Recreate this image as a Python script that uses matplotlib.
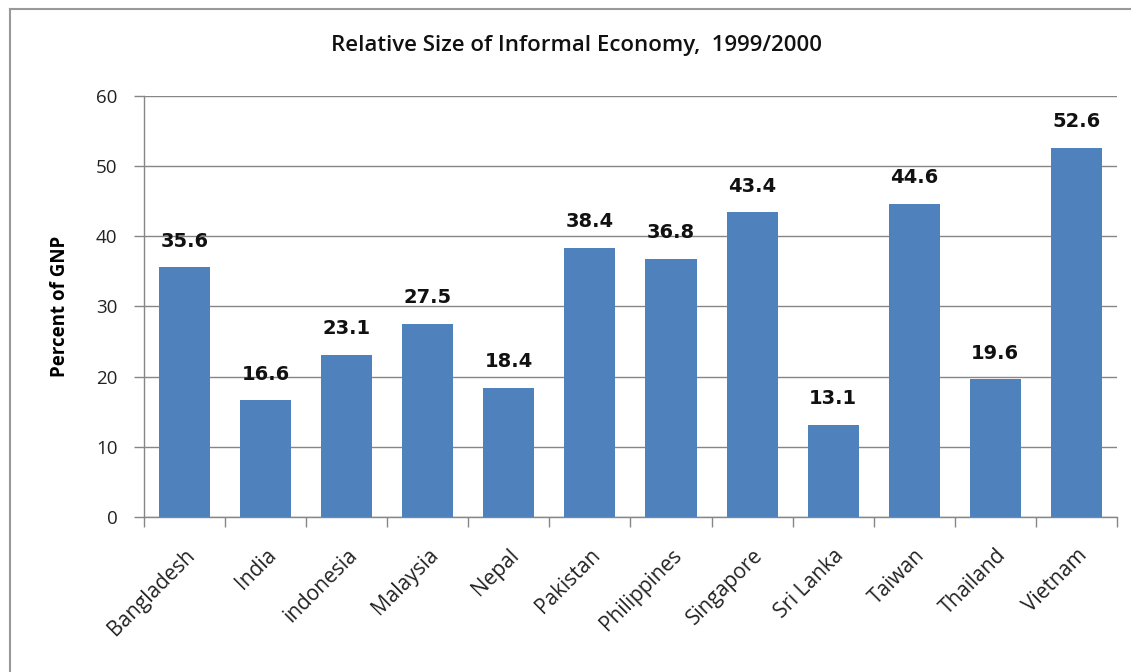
import matplotlib
matplotlib.use("Agg")
import matplotlib.pyplot as plt
from matplotlib.lines import Line2D
import numpy as np

countries = ["Bangladesh", "India", "indonesia", "Malaysia", "Nepal", "Pakistan",
             "Philippines", "Singapore", "Sri Lanka", "Taiwan", "Thailand", "Vietnam"]
values = [35.6, 16.6, 23.1, 27.5, 18.4, 38.4, 36.8, 43.4, 13.1, 44.6, 19.6, 52.6]
yticks = [0, 10, 20, 30, 40, 50, 60]
title = "Relative Size of Informal Economy,  1999/2000"
ylabel = "Percent of GNP"

plt.rcParams['font.family'] = ['Open Sans', 'DejaVu Sans']

fig = plt.figure(figsize=(11.31, 6.72), dpi=100)
ax = fig.add_axes([0.1273, 0.2307, 0.8603, 0.6265])

axis_col = "#868686"
x = np.arange(len(countries))
ax.bar(x, values, width=0.63, color="#4F81BD", zorder=3)
for xi, v in zip(x, values):
    ax.annotate(f"{v}", (xi, v), xytext=(0, 12), textcoords="offset points",
                ha="center", va="bottom", fontsize=14, fontweight="bold",
                family=["DejaVu Sans"], color="#111111")

ax.set_xlim(-0.5, len(countries) - 0.5)
ax.set_ylim(0, 60)
ax.set_yticks(yticks)
ax.set_yticklabels([str(t) for t in yticks], fontsize=13.5, color="#222222")
ax.yaxis.grid(True, color=axis_col, linewidth=1.0, zorder=0)
ax.set_axisbelow(True)

ax.set_xticks(x)
ax.set_xticklabels(countries, rotation=45, ha="right", rotation_mode="anchor",
                   fontsize=15, color="#222222")
ax.tick_params(axis="x", length=0, pad=20)
ax.set_xticks(np.arange(-0.5, len(countries)), minor=True)
ax.tick_params(axis="x", which="minor", length=7, color=axis_col, width=1)
ax.tick_params(axis="y", length=7, color=axis_col, width=1, pad=12)

for s in ["top", "right"]:
    ax.spines[s].set_visible(False)
for s in ["left", "bottom"]:
    ax.spines[s].set_color(axis_col)
    ax.spines[s].set_linewidth(1.0)

ax.set_ylabel(ylabel, fontsize=13.5, fontweight="bold", labelpad=19)
fig.text(0.51, 0.933, title, ha="center", va="center", fontsize=16,
         fontweight="semibold", color="#111111")

# outer chart border (top and left)
fig.add_artist(Line2D([10/1131, 1.0], [1 - 9/672, 1 - 9/672], color="#999999", lw=1.5))
fig.add_artist(Line2D([10/1131, 10/1131], [0, 1 - 9/672], color="#999999", lw=1.5))

fig.savefig("out.png", dpi=100)
